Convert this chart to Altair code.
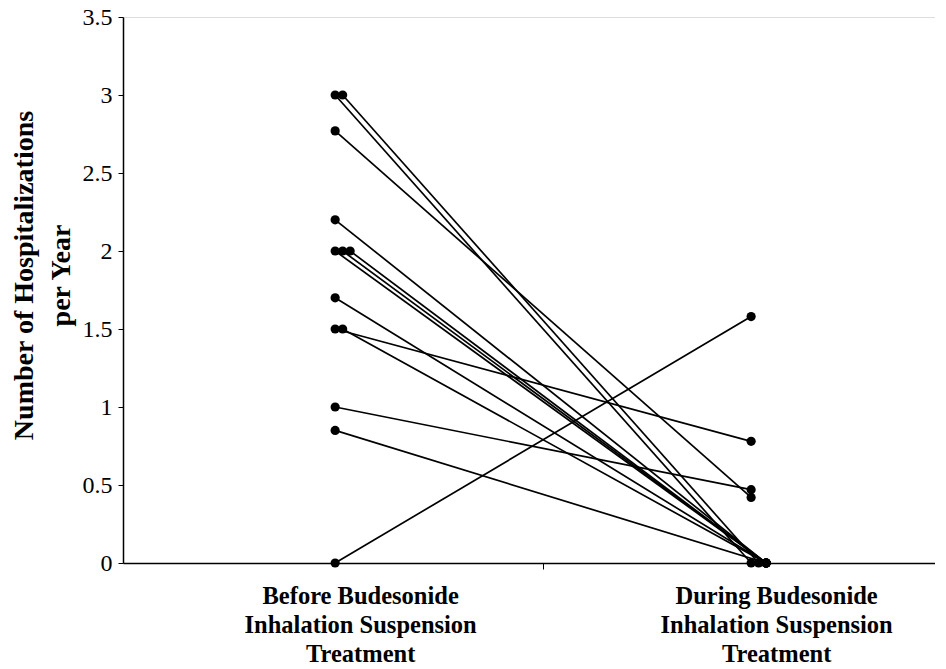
import altair as alt
import pandas as pd

# Data
phases = ["Before Budesonide|Inhalation Suspension|Treatment",
          "During Budesonide|Inhalation Suspension|Treatment"]
before = [3.0, 3.0, 2.77, 2.2, 2.0, 2.0, 2.0, 1.7, 1.5, 1.5, 1.0, 0.85, 0.0]
during = [0.0, 0.0, 0.42, 0.0, 0.0, 0.0, 0.0, 0.0, 0.78, 0.0, 0.47, 0.0, 1.58]
y_ticks = [0, 0.5, 1, 1.5, 2, 2.5, 3, 3.5]

rows = []
for i, (b, d) in enumerate(zip(before, during)):
    rows.append({"patient": i, "phase": 1, "value": b})
    rows.append({"patient": i, "phase": 2, "value": d})
df = pd.DataFrame(rows)
# small horizontal separation of coincident points (as in the original)
df["dup"] = df.groupby(["phase", "value"]).cumcount().clip(upper=2)
df["xpos"] = df["phase"] + df["dup"] * 0.018

label_expr = (
    "datum.value == 1 ? split('" + phases[0] + "', '|') : "
    "datum.value == 2 ? split('" + phases[1] + "', '|') : ''"
)

serif = "Liberation Serif"

x = alt.X(
    "xpos:Q",
    scale=alt.Scale(domain=[0.49, 2.442], nice=False, zero=False),
    axis=alt.Axis(
        values=[1, 1.5, 2],
        title=None,
        grid=False,
        labelExpr=label_expr,
        labelFont=serif,
        labelFontSize=24.5,
        labelFontWeight="bold",
        labelLineHeight=29,
        labelColor="black",
        labelPadding=15,
        labelOffset=25,
        labelLimit=0,
        labelFlush=False,
        labelOverlap=False,
        labelBound=False,
        domainColor="black",
        domainWidth=1.5,
        tickColor="black",
        tickSize=6,
        tickOpacity=alt.condition("datum.value == 1.5", alt.value(1), alt.value(0)),
    ),
)

y = alt.Y(
    "value:Q",
    scale=alt.Scale(domain=[0, 3.5], nice=False),
    axis=alt.Axis(
        values=y_ticks,
        format="~g",
        title=["Number of Hospitalizations", "per Year"],
        titleFont=serif,
        titleFontSize=28,
        titleFontWeight="bold",
        titleColor="black",
        titleLineHeight=37,
        titleBaseline="middle",
        titleX=-99,
        titleY=258,
        grid=False,
        labelFont=serif,
        labelFontSize=24,
        labelColor="black",
        labelPadding=6,
        domainColor="black",
        domainWidth=1.5,
        tickColor="black",
        tickSize=5,
    ),
)

lines = alt.Chart(df).mark_line(color="black", strokeWidth=1.7).encode(
    x=x, y=y, detail="patient:N", order="phase:Q"
)
points = alt.Chart(df).mark_circle(color="black", opacity=1, size=85).encode(
    x=x, y=y
)

chart = (
    alt.layer(lines, points)
    .properties(
        width=812,
        height=546,
        autosize=alt.AutoSizeParams(type="none"),
        padding={"left": 115, "top": 9, "right": 0, "bottom": 104},
    )
    .configure_view(stroke=None)
    .configure(background="white")
)

chart.save("out.html", embed_options={"renderer": "svg", "actions": False})
